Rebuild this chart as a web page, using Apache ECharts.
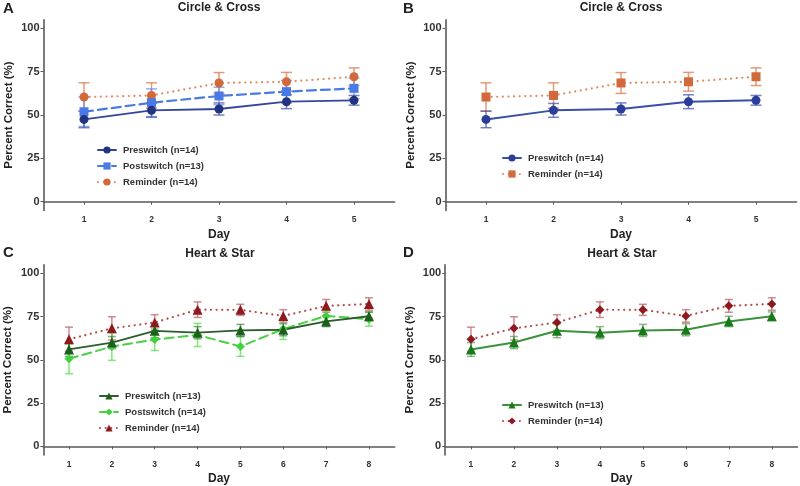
<!DOCTYPE html>
<html>
<head>
<meta charset="utf-8">
<script src="https://cdn.jsdelivr.net/npm/echarts@6/dist/echarts.min.js"></script>
<style>html,body{margin:0;padding:0;background:#fff}#c{width:800px;height:486px}</style>
</head>
<body>
<div id="c"></div>
<script>
// ---- data ----
const daysCC = [1, 2, 3, 4, 5];
const daysHS = [1, 2, 3, 4, 5, 6, 7, 8];
const yTicks = [0, 25, 50, 75, 100];

const ccPreMean  = [47.5, 52.7, 53.5, 57.7, 58.5];
const ccPreSE    = [4.8, 4.0, 3.5, 4.0, 2.8];
const ccPostMean = [51.9, 57.1, 61.0, 63.5, 65.4];
const ccPostSE   = [8.5, 8.0, 5.0, 6.5, 6.0];
const ccRemMean  = [60.4, 61.3, 68.5, 69.2, 72.1];
const ccRemSE    = [8.2, 7.3, 6.0, 5.4, 5.1];

const hsPreMean  = [56.0, 60.0, 66.8, 65.7, 67.0, 67.4, 72.2, 75.2];
const hsPreSE    = [4.0, 3.5, 4.0, 3.5, 3.5, 3.5, 3.0, 2.5];
const hsPostMean = [50.6, 57.7, 61.7, 64.4, 57.7, 67.8, 75.4, 73.5];
const hsPostSE   = [8.6, 8.0, 6.3, 6.7, 5.7, 6.0, 3.0, 4.0];
const hsRemMean  = [61.9, 68.2, 71.6, 79.0, 78.9, 75.4, 81.2, 82.3];
const hsRemSE    = [7.0, 6.7, 4.5, 4.5, 3.2, 3.6, 3.7, 3.6];

const titleCC = 'Circle & Cross';
const titleHS = 'Heart & Star';
const yName = 'Percent Correct (%)';
const xName = 'Day';

// ---- helpers ----
const FONT = '"Liberation Sans", Arial, sans-serif';
const grids = [
  {left: 43.5, top: 19.7, width: 351, height: 190.7},
  {left: 445.5, top: 19.7, width: 351, height: 190.7},
  {left: 43.3, top: 264.7, width: 351.4, height: 192.1},
  {left: 445.2, top: 264.7, width: 352.4, height: 192.1}
];
const axisColor = '#5a5a5a';
function xAxis(i, days) {
  return {
    type: 'value', gridIndex: i, min: 0.4, max: days.length + 0.6,
    splitLine: {show: false},
    axisLine: {show: true, lineStyle: {color: axisColor, width: 1.6}},
    axisTick: {show: true, customValues: days, length: 3, lineStyle: {color: axisColor}},
    axisLabel: {customValues: days, fontSize: 8.5, fontWeight: 'bold', color: '#333', margin: 5, fontFamily: FONT},
    name: xName, nameLocation: 'middle', nameGap: 18,
    nameTextStyle: {fontSize: 12, fontWeight: 'bold', color: '#222', fontFamily: FONT}
  };
}
function yAxis(i) {
  return {
    type: 'value', gridIndex: i, min: -5, max: 105,
    splitLine: {show: false},
    axisLine: {show: true, lineStyle: {color: axisColor, width: 1.6}},
    axisTick: {show: true, customValues: yTicks, length: 3, lineStyle: {color: axisColor}},
    axisLabel: {customValues: yTicks, fontSize: 11, fontWeight: 'bold', color: '#333', margin: 4, fontFamily: FONT},
    name: yName, nameLocation: 'middle', nameGap: 29,
    nameTextStyle: {fontSize: 11.5, fontWeight: 'bold', color: '#222', fontFamily: FONT}
  };
}
function errSeries(ai, days, means, ses, color, cap) {
  return {
    type: 'custom', xAxisIndex: ai, yAxisIndex: ai, silent: true, z: 1,
    data: days.map((d, i) => [d, means[i] - ses[i], means[i] + ses[i]]),
    encode: {x: 0, y: [1, 2]},
    renderItem: function (params, api) {
      const lo = api.coord([api.value(0), api.value(1)]);
      const hi = api.coord([api.value(0), api.value(2)]);
      const hw = cap / 2;
      const st = {stroke: color, lineWidth: 1.5};
      return {type: 'group', children: [
        {type: 'line', shape: {x1: lo[0], y1: lo[1], x2: hi[0], y2: hi[1]}, style: st},
        {type: 'line', shape: {x1: lo[0] - hw, y1: lo[1], x2: lo[0] + hw, y2: lo[1]}, style: st},
        {type: 'line', shape: {x1: hi[0] - hw, y1: hi[1], x2: hi[0] + hw, y2: hi[1]}, style: st}
      ]};
    }
  };
}
function lineSeries(ai, name, days, means, color, lineColor, dash, symbol, size, width) {
  return {
    type: 'line', name: name, xAxisIndex: ai, yAxisIndex: ai, z: 3,
    data: days.map((d, i) => [d, means[i]]),
    symbol: symbol, symbolSize: size, showSymbol: true, silent: true,
    itemStyle: {color: color, opacity: 1},
    lineStyle: {color: lineColor, width: width, type: dash, cap: 'round'},
    emphasis: {disabled: true}, animation: false
  };
}
function legend(left, top, names) {
  return {
    orient: 'vertical', left: left, top: top, data: names, selectedMode: false,
    itemWidth: 18, itemHeight: 9, itemGap: 6, padding: 0,
    formatter: n => n.split('|')[1],
    textStyle: {fontSize: 9.5, fontWeight: 'bold', color: '#333', fontFamily: FONT, padding: [0, 0, 0, 2]}
  };
}

const DOT = [0.1, 5.5];
const DASH = [9, 5];
const navy = '#22337f', navyErr = 'rgba(60,80,160,0.7)';
const blue = '#4a7ae6', blueErr = 'rgba(90,130,235,0.65)';
const orange = '#d2693a', orangeErr = 'rgba(220,130,90,0.8)';
const dgreen = '#1d5f1d', dgreenErr = 'rgba(40,110,40,0.6)';
const dgreenD = '#197a19', dgreenDLine = '#3a923a';
const lime = '#3fd23a', limeErr = 'rgba(80,220,70,0.7)';
const dred = '#8e1a1f', dredLine = '#b84a4a', dredErr = 'rgba(190,90,100,0.7)';

const series = [
  // A
  errSeries(0, daysCC, ccRemMean, ccRemSE, orangeErr, 11),
  errSeries(0, daysCC, ccPostMean, ccPostSE, blueErr, 11),
  errSeries(0, daysCC, ccPreMean, ccPreSE, navyErr, 11),
  lineSeries(0, 'A|Reminder (n=14)', daysCC, ccRemMean, orange, '#e08a60', DOT, 'circle', 9, 2.2),
  lineSeries(0, 'A|Postswitch (n=13)', daysCC, ccPostMean, blue, blue, DASH, 'rect', 9, 2.2),
  lineSeries(0, 'A|Preswitch (n=14)', daysCC, ccPreMean, navy, '#34469a', 'solid', 'circle', 9, 1.8),
  // B
  errSeries(1, daysCC, ccRemMean, ccRemSE, orangeErr, 11),
  errSeries(1, daysCC, ccPreMean, ccPreSE, navyErr, 11),
  lineSeries(1, 'B|Reminder (n=14)', daysCC, ccRemMean, orange, '#e08a60', DOT, 'rect', 9, 2.2),
  lineSeries(1, 'B|Preswitch (n=14)', daysCC, ccPreMean, '#2a3d9a', '#3a4fa8', 'solid', 'circle', 9, 2),
  // C
  errSeries(2, daysHS, hsRemMean, hsRemSE, dredErr, 8),
  errSeries(2, daysHS, hsPostMean, hsPostSE, limeErr, 8),
  errSeries(2, daysHS, hsPreMean, hsPreSE, dgreenErr, 8),
  lineSeries(2, 'C|Reminder (n=14)', daysHS, hsRemMean, dred, dredLine, DOT, 'triangle', 10, 2.2),
  lineSeries(2, 'C|Postswitch (n=14)', daysHS, hsPostMean, lime, '#4bcf45', DASH, 'diamond', 9, 2),
  lineSeries(2, 'C|Preswitch (n=13)', daysHS, hsPreMean, dgreen, '#2a5e2a', 'solid', 'triangle', 10, 1.8),
  // D
  errSeries(3, daysHS, hsRemMean, hsRemSE, dredErr, 8),
  errSeries(3, daysHS, hsPreMean, hsPreSE, 'rgba(60,140,60,0.6)', 8),
  lineSeries(3, 'D|Reminder (n=14)', daysHS, hsRemMean, dred, dredLine, DOT, 'diamond', 9, 2.2),
  lineSeries(3, 'D|Preswitch (n=13)', daysHS, hsPreMean, dgreenD, dgreenDLine, 'solid', 'triangle', 10, 2)
];

const txt = (x, y, text, size, align) => ({
  type: 'text', x: x, y: y,
  style: {text: text, fontSize: size, fontWeight: 'bold', fill: '#222', fontFamily: FONT,
          align: align || 'center', verticalAlign: 'middle'}
});

const option = {
  animation: false,
  backgroundColor: '#ffffff',
  grid: grids,
  xAxis: [xAxis(0, daysCC), xAxis(1, daysCC), xAxis(2, daysHS), xAxis(3, daysHS)],
  yAxis: [yAxis(0), yAxis(1), yAxis(2), yAxis(3)],
  legend: [
    legend(97, 145, ['A|Preswitch (n=14)', 'A|Postswitch (n=13)', 'A|Reminder (n=14)']),
    legend(502, 153, ['B|Preswitch (n=14)', 'B|Reminder (n=14)']),
    legend(99, 391, ['C|Preswitch (n=13)', 'C|Postswitch (n=14)', 'C|Reminder (n=14)']),
    legend(502, 400, ['D|Preswitch (n=13)', 'D|Reminder (n=14)'])
  ],
  graphic: [
    txt(3, 9, 'A', 15, 'left'),
    txt(403, 9, 'B', 15, 'left'),
    txt(3, 253, 'C', 15, 'left'),
    txt(403, 253, 'D', 15, 'left'),
    txt(219, 8, titleCC, 12),
    txt(621, 8, titleCC, 12),
    txt(220, 254, titleHS, 12),
    txt(622, 254, titleHS, 12)
  ],
  series: series
};

const chart = echarts.init(document.getElementById('c'), null, {renderer: 'canvas'});
chart.setOption(option);
</script>
</body>
</html>
